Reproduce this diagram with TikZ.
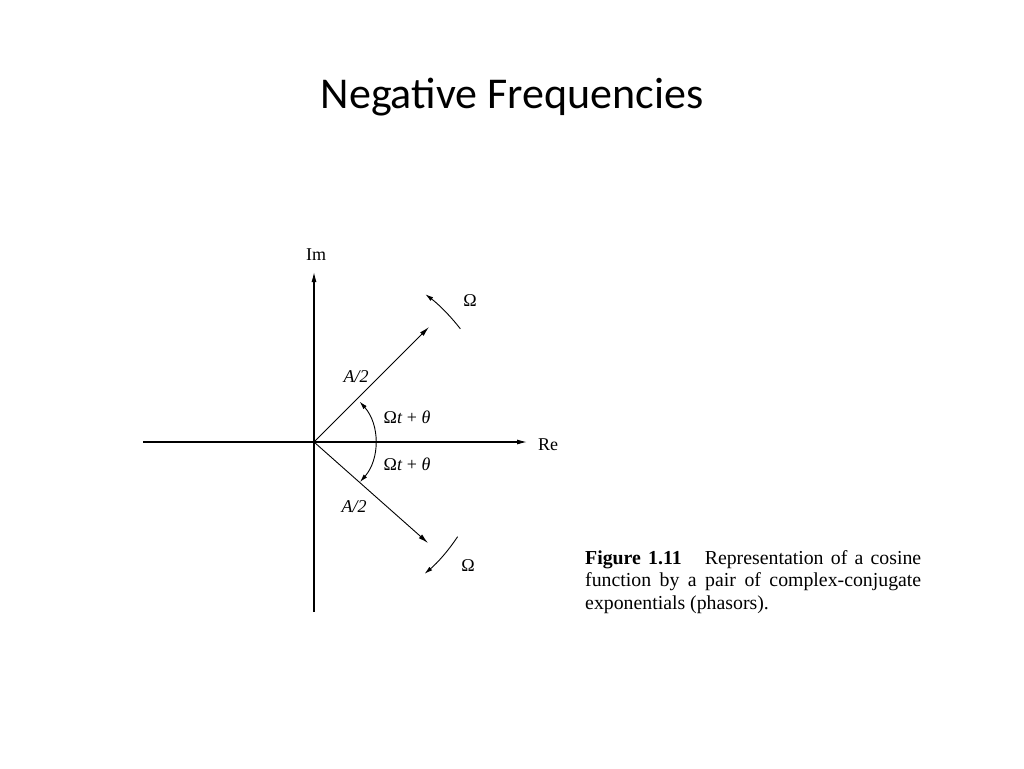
\documentclass[tikz,border=0pt]{standalone}
\usepackage{fontspec}
\setmainfont{Liberation Serif}
\newfontfamily\titlefont{Carlito}
\usetikzlibrary{arrows.meta}
\begin{document}
\begin{tikzpicture}[x=1pt,y=-1pt,
  axisline/.style={line width=1.1pt,-{Latex[length=10pt,width=5pt]}},
  vec/.style={line width=0.9pt,-{Latex[length=10pt,width=5pt]}},
  rot/.style={line width=0.9pt},
  lbl/.style={inner sep=0pt,font=\fontsize{18}{21}\selectfont},
  captext/.style={inner sep=0pt,anchor=base west,font=\fontsize{19.8}{22}\selectfont}]
\useasboundingbox[fill=white] (0,0) rectangle (1024,768);
% title
\node[inner sep=0pt,anchor=base] (title) at (512,108) {\titlefont\fontsize{44}{52}\selectfont Negative Frequencies};
% axes
\coordinate (O) at (314,442);
\coordinate (Imtop) at (314,272);
\coordinate (Imbot) at (314,612);
\coordinate (Releft) at (143,442);
\coordinate (Reright) at (527,442);
\coordinate (P1) at (429,327);
\coordinate (P2) at (428,543);
\draw[axisline] (Releft) -- (Reright);
\draw[axisline] (Imbot) -- (Imtop);
\fill (O) circle (1.8);
\draw[vec] (O) -- (P1);
\draw[vec] (O) -- (P2);
% arcs
\begin{scope}[shift={(O)},y=1pt]
  \draw[rot,{Latex[length=8pt,width=4.5pt]}-{Latex[length=8pt,width=4.5pt]}] (-41:61) arc[start angle=-41,end angle=41.5,radius=61];
  \draw[rot,-{Latex[length=8pt,width=4.5pt]}] (37.7:185) arc[start angle=37.7,end angle=53,radius=185];
  \draw[rot,-{Latex[length=8pt,width=4.5pt]}] (-33.4:172) arc[start angle=-33.4,end angle=-50,radius=172];
\end{scope}
% labels
\node[lbl] (Im) at (316,255) {Im};
\node[lbl] (Re) at (548,445) {Re};
\node[lbl] (W1) at (470,301) {Ω};
\node[lbl] (W2) at (468,566) {Ω};
\node[lbl] (A1) at (356,377) {\textit{A/2}};
\node[lbl] (A2) at (354,507) {\textit{A/2}};
\node[lbl] (T1) at (407,417) {Ω\textit{t} + \textit{θ}};
\node[lbl] (T2) at (407,464) {Ω\textit{t} + \textit{θ}};
% caption
\node[captext] (c1) at (585,564) {\hbox to 336pt{\textbf{Figure 1.11}\hspace{0.8em} Representation of a cosine}};
\node[captext] (c2) at (585,586.5) {\hbox to 336pt{function by a pair of complex-conjugate}};
\node[captext] (c3) at (585,609) {exponentials (phasors).};
\end{tikzpicture}
\end{document}
